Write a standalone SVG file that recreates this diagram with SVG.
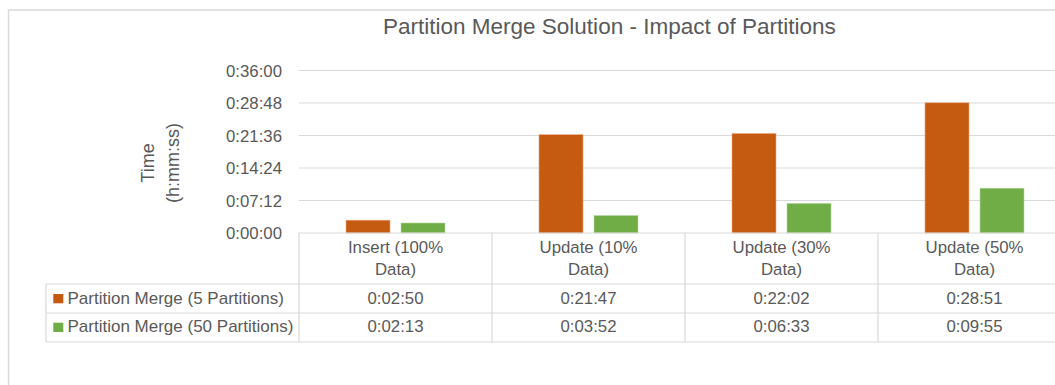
<svg xmlns="http://www.w3.org/2000/svg" width="1055" height="385" viewBox="0 0 1055 385">
<style>
  text { font-family: "Liberation Sans", Arial, sans-serif; fill: #595959; }
  .tick { font-size: 16.8px; text-anchor: end; }
  .cell { font-size: 16.8px; text-anchor: middle; }
  .leg { font-size: 17px; }
  .grid { stroke: #D9D9D9; stroke-width: 1.2; fill: none; }
  .o { fill: #C55A11; stroke: #E8A57A; stroke-width: 0.6; }
  .g { fill: #70AD47; stroke: #B5D9A0; stroke-width: 0.6; }
</style>
<rect x="0" y="0" width="1055" height="385" fill="#FFFFFF"/>
<rect id="frame" x="8.5" y="10" width="1060" height="390" fill="none" stroke="#D9D9D9" stroke-width="1.5"/>
<text id="title" x="609.4" y="34" text-anchor="middle" font-size="22" textLength="453" lengthAdjust="spacingAndGlyphs">Partition Merge Solution - Impact of Partitions</text>
<g id="axis-title" font-size="18">
  <text x="0" y="0" text-anchor="middle" transform="translate(154,163) rotate(-90)">Time</text>
  <text x="0" y="0" text-anchor="middle" transform="translate(179,163) rotate(-90)">(h:mm:ss)</text>
</g>
<g id="gridlines" class="grid">
  <line x1="299" y1="70.5" x2="1060" y2="70.5"/>
  <line x1="299" y1="103" x2="1060" y2="103"/>
  <line x1="299" y1="135.5" x2="1060" y2="135.5"/>
  <line x1="299" y1="168" x2="1060" y2="168"/>
  <line x1="299" y1="200.5" x2="1060" y2="200.5"/>
</g>
<g id="ticks">
  <text class="tick" x="282" y="76.5">0:36:00</text>
  <text class="tick" x="282" y="109">0:28:48</text>
  <text class="tick" x="282" y="141.5">0:21:36</text>
  <text class="tick" x="282" y="174">0:14:24</text>
  <text class="tick" x="282" y="206.5">0:07:12</text>
  <text class="tick" x="282" y="239">0:00:00</text>
</g>
<g id="bars">
  <rect class="o" x="346" y="220.2" width="44" height="12.8"/>
  <rect class="g" x="401" y="223" width="44" height="10"/>
  <rect class="o" x="539" y="134.7" width="44" height="98.3"/>
  <rect class="g" x="594" y="215.5" width="44" height="17.5"/>
  <rect class="o" x="732" y="133.5" width="44" height="99.5"/>
  <rect class="g" x="787" y="203.4" width="44" height="29.6"/>
  <rect class="o" x="925" y="102.8" width="44" height="130.2"/>
  <rect class="g" x="980" y="188.2" width="44" height="44.8"/>
</g>
<g id="table-lines" class="grid">
  <line x1="299" y1="233" x2="1060" y2="233"/>
  <line x1="46" y1="284" x2="1060" y2="284"/>
  <line x1="46" y1="313" x2="1060" y2="313"/>
  <line x1="46" y1="342" x2="1060" y2="342"/>
  <line x1="46" y1="284" x2="46" y2="342"/>
  <line x1="299" y1="233" x2="299" y2="342"/>
  <line x1="492" y1="233" x2="492" y2="342"/>
  <line x1="685" y1="233" x2="685" y2="342"/>
  <line x1="878" y1="233" x2="878" y2="342"/>
</g>
<g id="categories">
  <text class="cell" x="395.5" y="253">Insert (100%</text>
  <text class="cell" x="395.5" y="275">Data)</text>
  <text class="cell" x="588.5" y="253">Update (10%</text>
  <text class="cell" x="588.5" y="275">Data)</text>
  <text class="cell" x="781.5" y="253">Update (30%</text>
  <text class="cell" x="781.5" y="275">Data)</text>
  <text class="cell" x="974.5" y="253">Update (50%</text>
  <text class="cell" x="974.5" y="275">Data)</text>
</g>
<g id="legend-5">
  <rect x="53.3" y="294" width="10" height="9.3" fill="#C55A11"/>
  <text class="leg" x="67.5" y="303.5">Partition Merge (5 Partitions)</text>
</g>
<g id="legend-50">
  <rect x="53.3" y="322.7" width="10" height="9.3" fill="#70AD47"/>
  <text class="leg" x="67.5" y="332">Partition Merge (50 Partitions)</text>
</g>
<g id="values">
  <text class="cell" x="395.5" y="303.5">0:02:50</text>
  <text class="cell" x="588.5" y="303.5">0:21:47</text>
  <text class="cell" x="781.5" y="303.5">0:22:02</text>
  <text class="cell" x="974.5" y="303.5">0:28:51</text>
  <text class="cell" x="395.5" y="332">0:02:13</text>
  <text class="cell" x="588.5" y="332">0:03:52</text>
  <text class="cell" x="781.5" y="332">0:06:33</text>
  <text class="cell" x="974.5" y="332">0:09:55</text>
</g>
</svg>
